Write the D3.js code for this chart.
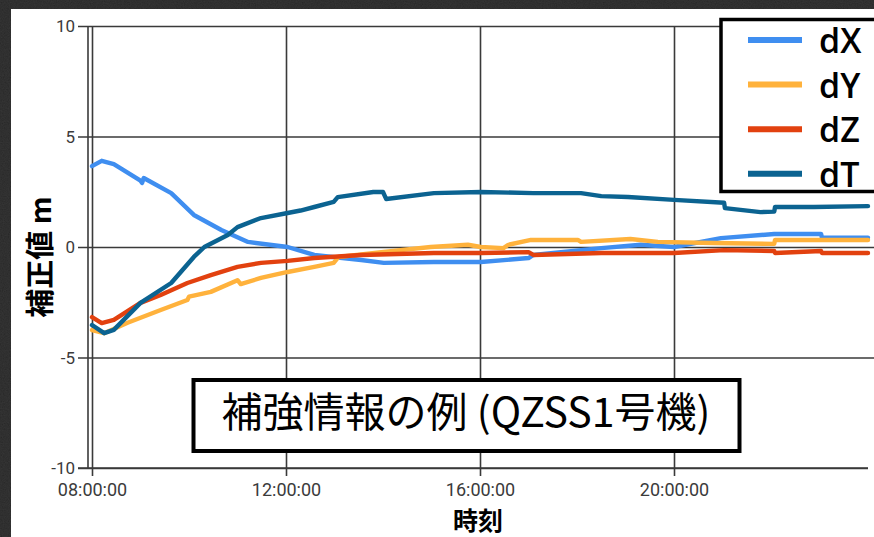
<!DOCTYPE html>
<html><head><meta charset="utf-8">
<script src="https://cdn.jsdelivr.net/npm/d3@7"></script>
<style>body{margin:0;background:#1b1b1b;overflow:hidden}</style>
</head><body><svg id="c" width="874" height="537"></svg>
<script>
// ---- data ----
const seriesNames = ["dX", "dY", "dZ", "dT"];
const seriesColors = ["#3f8ef0", "#ffb23c", "#e2410f", "#0b6391"];
const yTickValues = [-10, -5, 0, 5, 10];
const xTickValues = ["08:00", "12:00", "16:00", "20:00"];
const xTickLabels = ["08:00:00", "12:00:00", "16:00:00", "20:00:00"];
const titleText = "補強情報の例 (QZSS1号機)";
const yLabel = "補正値 m";
const xLabel = "時刻";

const dX = [["08:00",3.66],["08:12",3.9],["08:27",3.75],["09:00",3.0],["09:02",2.9],["09:04",3.12],["09:38",2.44],["10:06",1.45],["10:40",0.77],["11:13",0.23],["12:02",0.0],["12:35",-0.36],["13:33",-0.59],["14:01",-0.72],["15:03",-0.68],["16:01",-0.68],["17:00",-0.5],["17:06",-0.36],["18:30",-0.05],["19:19",0.1],["20:00",0.0],["20:58",0.4],["22:04",0.59],["23:02",0.59],["23:03",0.42],["24:00",0.42]];
const dY = [["08:00",-3.76],["08:15",-3.9],["08:44",-3.43],["09:25",-2.85],["09:58",-2.4],["10:00",-2.25],["10:27",-2.03],["11:00",-1.5],["11:04",-1.68],["11:29",-1.4],["12:02",-1.13],["12:35",-0.9],["12:59",-0.72],["13:05",-0.45],["13:58",-0.23],["14:59",0.0],["15:45",0.1],["16:01",0.0],["16:29",-0.05],["16:35",0.1],["17:03",0.32],["18:01",0.32],["18:05",0.23],["19:06",0.36],["19:40",0.23],["20:49",0.18],["22:04",0.14],["22:05",0.32],["24:00",0.32]];
const dZ = [["08:00",-3.17],["08:12",-3.44],["08:27",-3.3],["09:00",-2.53],["09:25",-2.17],["09:58",-1.63],["10:27",-1.27],["11:00",-0.9],["11:29",-0.72],["12:02",-0.63],["12:35",-0.5],["13:33",-0.36],["15:03",-0.27],["16:01",-0.27],["17:00",-0.23],["17:06",-0.36],["18:30",-0.27],["20:00",-0.27],["21:02",-0.14],["22:04",-0.18],["22:05",-0.27],["23:02",-0.18],["23:03",-0.27],["24:00",-0.27]];
const dT = [["08:00",-3.53],["08:15",-3.9],["08:27",-3.75],["09:00",-2.53],["09:38",-1.63],["10:06",-0.45],["10:19",0.0],["10:48",0.54],["11:00",0.9],["11:29",1.31],["12:02",1.54],["12:18",1.65],["12:35",1.81],["12:59",2.04],["13:04",2.26],["13:48",2.49],["14:00",2.49],["14:04",2.17],["15:03",2.44],["16:01",2.49],["17:06",2.44],["18:05",2.44],["18:30",2.3],["19:03",2.26],["20:00",2.13],["21:02",2.0],["21:03",1.76],["21:47",1.58],["22:04",1.6],["22:05",1.81],["22:53",1.81],["24:00",1.85]];
const seriesData = [dX, dY, dZ, dT];

// ---- helpers ----
const toHours = s => { const [h, m] = s.split(":").map(Number); return h + m / 60; };

const W = 874, H = 537;
const svg = d3.select("#c");
const defs = svg.append("defs");

// textured dark background
const flt = defs.append("filter").attr("id", "noise").attr("x", 0).attr("y", 0).attr("width", "100%").attr("height", "100%");
flt.append("feTurbulence").attr("type", "fractalNoise").attr("baseFrequency", 0.85).attr("numOctaves", 3).attr("seed", 7);
flt.append("feColorMatrix").attr("type", "matrix").attr("values", "0.33 0.33 0.33 0 0  0.33 0.33 0.33 0 0  0.33 0.33 0.33 0 0  0 0 0 0 1");
svg.append("rect").attr("width", W).attr("height", H).attr("fill", "#151515");
svg.append("rect").attr("width", W).attr("height", H).attr("filter", "url(#noise)").attr("opacity", 0.16);

// white panel
svg.append("rect").attr("x", 11).attr("y", 9).attr("width", W - 11).attr("height", H - 9).attr("fill", "#ffffff");

// scales
const x = d3.scaleLinear().domain([8, 24]).range([92, 868]);
const y = d3.scaleLinear().domain([-10, 10]).range([468, 26]);

const gridColor = "#3a3a3a";
const tickFont = "Roboto, 'Liberation Sans', sans-serif";

// y axis with gridlines
const yAx = svg.append("g").attr("transform", "translate(78,0)")
  .call(d3.axisLeft(y).tickValues(yTickValues).tickSizeInner(-(W - 78)).tickSizeOuter(0).tickPadding(3).tickFormat(d => String(d)));
yAx.select(".domain").remove();
yAx.selectAll(".tick line").attr("stroke", gridColor).attr("stroke-width", 1.6);
yAx.selectAll(".tick").filter(d => d === -10).select("line").attr("x2", 868 - 78);
yAx.selectAll("text").attr("font-family", tickFont).attr("font-size", 17).attr("fill", "#3b3b3b").attr("dy", "0.34em");

// x axis with gridlines
const xAx = svg.append("g").attr("transform", "translate(0,476)")
  .call(d3.axisBottom(x).tickValues(xTickValues.map(toHours)).tickSizeInner(-(476 - 26)).tickSizeOuter(0).tickPadding(7)
    .tickFormat((d, i) => xTickLabels[i]));
xAx.select(".domain").remove();
xAx.selectAll(".tick line").attr("stroke", gridColor).attr("stroke-width", 1.6);
xAx.selectAll("text").attr("font-family", tickFont).attr("font-size", 18).attr("fill", "#3b3b3b");

// axis lines
svg.append("line").attr("x1", 88).attr("x2", 88).attr("y1", 26).attr("y2", 468).attr("stroke", gridColor).attr("stroke-width", 1.6);
svg.append("line").attr("x1", 78).attr("x2", 868).attr("y1", y(-10)).attr("y2", y(-10)).attr("stroke", gridColor).attr("stroke-width", 1.6);

// lines
defs.append("clipPath").attr("id", "plotclip").append("rect").attr("x", 88).attr("y", 26).attr("width", W - 88).attr("height", 442);
const line = d3.line().x(d => x(toHours(d[0]))).y(d => y(d[1]));
const lg = svg.append("g").attr("clip-path", "url(#plotclip)");
seriesData.forEach((s, i) => {
  lg.append("path").datum(s).attr("d", line).attr("fill", "none")
    .attr("stroke", seriesColors[i]).attr("stroke-width", 4.4).attr("stroke-linejoin", "round").attr("stroke-linecap", "round");
});

// legend
const leg = svg.append("g");
leg.append("rect").attr("x", 721).attr("y", 19.5).attr("width", 170).attr("height", 172).attr("fill", "#fff").attr("stroke", "#000").attr("stroke-width", 3.5);
seriesNames.forEach((n, i) => {
  const cy = 40 + i * 44.6;
  leg.append("line").attr("x1", 748).attr("x2", 802).attr("y1", cy).attr("y2", cy).attr("stroke", seriesColors[i]).attr("stroke-width", 6);
  leg.append("text").attr("x", 819).attr("y", cy + 13).text(n)
    .attr("font-family", "'Open Sans', 'Noto Sans', sans-serif").attr("font-weight", 600).attr("font-size", 34).attr("fill", "#000");
});

// title box
svg.append("rect").attr("x", 193.5).attr("y", 380).attr("width", 546).attr("height", 71).attr("fill", "#fff").attr("stroke", "#000").attr("stroke-width", 4);
svg.append("text").attr("x", 466).attr("y", 427).attr("text-anchor", "middle").text(titleText)
  .attr("font-family", "'Noto Sans CJK JP', sans-serif").attr("font-size", 41).attr("fill", "#000");

// axis titles
svg.append("text").attr("transform", "translate(51,257) rotate(-90)").attr("text-anchor", "middle").text(yLabel)
  .attr("font-family", "'Noto Sans CJK JP', sans-serif").attr("font-weight", 700).attr("font-size", 29).attr("fill", "#000");
svg.append("text").attr("x", 478).attr("y", 529.5).attr("text-anchor", "middle").text(xLabel)
  .attr("font-family", "'Noto Sans CJK JP', sans-serif").attr("font-weight", 700).attr("font-size", 25).attr("fill", "#000");
</script>
</body></html>
